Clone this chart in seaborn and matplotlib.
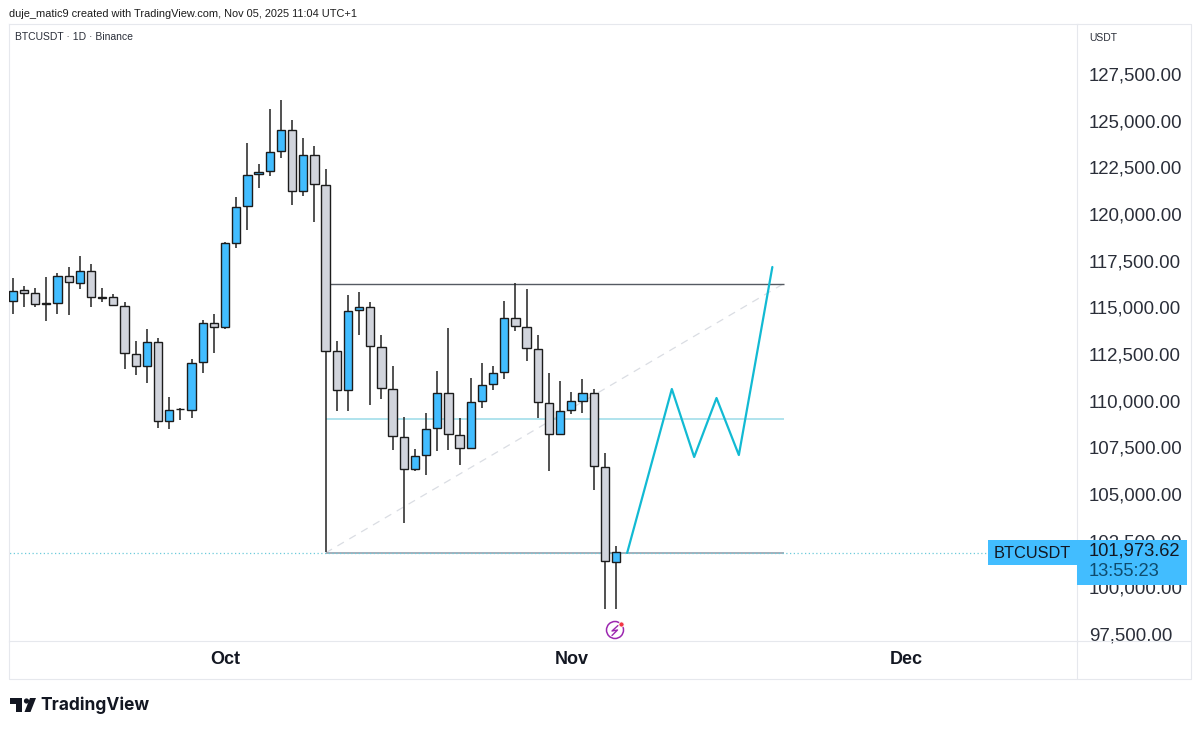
"""BTCUSDT daily candles with projected path, TradingView style snapshot."""

import matplotlib
matplotlib.use("Agg")
import matplotlib.pyplot as plt
import pandas as pd
import seaborn as sns
from matplotlib.lines import Line2D
from matplotlib.patches import Circle, Polygon, Rectangle
from matplotlib.transforms import Affine2D, ScaledTranslation

# candles
opens = [115410, 115966, 115838, 115270, 115270, 116716, 116374, 117000, 115608, 115608,
         115142, 112570, 111927, 113213, 108949, 109608, 109571, 112109, 114231, 113984,
         118516, 120483, 122180, 122341, 123413, 124570, 121270, 123215, 121591, 112699,
         110610, 114911, 115089, 112945, 110695, 108124, 106378, 107144, 108574, 110465,
         108232, 107503, 110020, 110930, 111606, 114466, 114017, 112822, 109945, 108285,
         109538, 110036, 110465, 106517, 101427]
highs = [116609, 116213, 116106, 116695, 116877, 117215, 117820, 117391, 116074, 115753,
         115324, 113234, 113877, 113427, 110235, 109661, 112270, 114376, 114713, 118554,
         120949, 123841, 122732, 125663, 126145, 125073, 124125, 123697, 122481, 113250,
         115715, 115892, 115340, 113556, 111911, 109179, 107449, 109377, 111627, 113931,
         109109, 111252, 112056, 111895, 115410, 116341, 116020, 113572, 111536, 111108,
         110502, 111199, 110663, 107235, 102284]
lows = [114681, 115072, 115072, 114338, 114681, 114660, 116052, 115056, 115356, 115163,
        111767, 111413, 111000, 108590, 108553, 109018, 109142, 111520, 112591, 113910,
        118248, 119213, 121463, 122090, 123038, 120536, 121018, 119609, 101948, 109517,
        109517, 113588, 109822, 110128, 107396, 103484, 106271, 106072, 107358, 107427,
        106608, 107503, 109661, 110641, 111215, 113786, 112163, 109142, 106271, 108285,
        109356, 109411, 105269, 98893, 98893]
closes = [115945, 115838, 115217, 115217, 116716, 116395, 117000, 115592, 115570, 115163,
          112591, 111927, 113213, 108949, 109571, 109592, 112072, 114231, 113984, 118500,
          120445, 122143, 122320, 123391, 124570, 121270, 123215, 121645, 112730, 110610,
          114874, 115089, 112966, 110716, 108146, 106378, 107106, 108553, 110449, 108253,
          107503, 109999, 110910, 111553, 114466, 114054, 112859, 109967, 108285, 109517,
          110020, 110449, 106538, 101449, 101973]

# drawings on top of the candles
path_bars = [55, 59, 61, 63, 65, 68]
path_prices = [101900, 110679, 107037, 110197, 107143, 117215]
level_start = 28
level_end = 69
level_top = 116320
level_mid = 109072
level_low = 101900

price_ticks = [97500, 100000, 102500, 105000, 107500, 110000, 112500,
               115000, 117500, 120000, 122500, 125000, 127500]
month_bars = [19, 50, 80]
month_labels = ["Oct", "Nov", "Dec"]

BLUE = "#42BDFF"
GREY = "#D1D4DC"
INK = "#131722"
EDGE = "#E6E8ED"
W, H = 1200, 731

sns.set_theme(style="white")
plt.rcParams["font.family"] = ["Liberation Sans", "DejaVu Sans"]

df = pd.DataFrame({"open": opens, "high": highs, "low": lows, "close": closes})
df["bar"] = df.index
df["up"] = df["close"] >= df["open"]
path = pd.DataFrame({"bar": path_bars, "price": path_prices})

fig = plt.figure(figsize=(W / 100, H / 100), dpi=100, facecolor="white")
ax = fig.add_axes([9 / W, 1 - 641 / H, (1077 - 9) / W, (641 - 24) / H])

# figure pixels, origin top left
px = Affine2D().scale(1, -1).translate(0, H)

# ── Levels ───────────────────────────────────────────────
ax.plot([level_start, level_end], [level_low, level_top], color="#DADDE3", lw=0.9,
        ls=(0, (6, 5)), zorder=1)
ax.hlines(level_top, level_start, level_end, color="#555a62", lw=1.0, zorder=1)
ax.hlines(level_mid, level_start, level_end, color="#9ADBE8", lw=1.1, zorder=1)
ax.hlines(level_low, level_start, level_end, color="#8D99A6", lw=1.1, zorder=1)
ax.plot([-1, 87.5], [level_low, level_low], color="#6CCBDB", lw=0.9, ls=(0, (1, 2)), zorder=1)

# ── Candles ──────────────────────────────────────────────
ax.vlines(df["bar"], df["low"], df["high"], color="#222222", lw=1.1, zorder=2)
body_bottom = df[["open", "close"]].min(axis=1)
body_height = (df["close"] - df["open"]).abs()
ax.bar(df["bar"], body_height, bottom=body_bottom, width=0.74,
       color=[BLUE if up else GREY for up in df["up"]],
       edgecolor="#1c1c1c", linewidth=1.0, zorder=3)

sns.lineplot(data=path, x="bar", y="price", color="#12BAD3", lw=1.6, ax=ax, zorder=4,
             estimator=None, sort=False)

# ── Axes ─────────────────────────────────────────────────
ax.set_xlim((9 - 12.8) / 11.17, (1077 - 12.8) / 11.17)
ax.set_ylim(97180, 130232)
ax.set_xlabel("")
ax.set_ylabel("")
ax.yaxis.tick_right()
ax.set_yticks(price_ticks)
ax.set_yticklabels([f"{p:,.2f}" for p in price_ticks], fontsize=13.4, color="#2A2E39")
ax.set_xticks(month_bars)
ax.set_xticklabels(month_labels, fontsize=13, fontweight="bold", color=INK)
ax.tick_params(axis="y", length=0, pad=8.5)
ax.tick_params(axis="x", length=0, pad=7.5)
for spine in ax.spines.values():
    spine.set_color(EDGE)
    spine.set_linewidth(0.8)

# nudge the price labels up one pixel
up_one = ScaledTranslation(0, 1 / 100, fig.dpi_scale_trans)
for label in ax.get_yticklabels():
    label.set_transform(label.get_transform() + up_one)

# outer frame of the price and time scales
for xs, ys in [([9, 1191], [679, 679]), ([9, 9], [641, 679]), ([1077, 1077], [641, 679]),
               ([1191, 1191], [24, 679]), ([1077, 1191], [24, 24]), ([1077, 1191], [641, 641])]:
    fig.add_artist(Line2D(xs, ys, color=EDGE, lw=0.8, transform=px))

# ── Last price tag ───────────────────────────────────────
fig.add_artist(Rectangle((988, 540), 89, 25, color=BLUE, lw=0, transform=px, zorder=5))
fig.add_artist(Rectangle((1077, 540), 110, 45, color=BLUE, lw=0, transform=px, zorder=5))
fig.text(1032 / W, 1 - 553 / H, "BTCUSDT", fontsize=11.8, color=INK, ha="center", va="center", zorder=6)
fig.text(1089 / W, 1 - 551.5 / H, "101,973.62", fontsize=13.2, color=INK, va="center", zorder=6)
fig.text(1089 / W, 1 - 572 / H, "13:55:23", fontsize=13.2, color="#0F4C6E", va="center", zorder=6)

# ── Header and footer text ───────────────────────────────
fig.text(9 / W, 1 - 14 / H, "duje_matic9 created with TradingView.com, Nov 05, 2025 11:04 UTC+1",
         fontsize=7.9, color="#1c1c1c", va="center")
fig.text(15 / W, 1 - 37 / H, "BTCUSDT · 1D · Binance", fontsize=7.5, color="#2A2E39", va="center")
fig.text(1089 / W, 1 - 38 / H, "USDT", fontsize=7.5, color="#2A2E39", va="center")
fig.text(40 / W, 1 - 705 / H, "TradingView", fontsize=12.5, fontfamily="Inter",
         fontweight="bold", color=INK, va="center")

# logo
fig.add_artist(Polygon([(10, 698), (22, 698), (22, 712), (16, 712), (16, 704), (10, 704)],
                       color=INK, lw=0, transform=px))
fig.add_artist(Circle((26.5, 701), 2.6, color=INK, lw=0, transform=px))
fig.add_artist(Polygon([(30, 698), (36, 698), (30.5, 712), (24.5, 712)], color=INK, lw=0, transform=px))

# dividend style marker under the last bar
fig.add_artist(Circle((615, 630), 8.5, facecolor="white", edgecolor="#9C27B0", lw=1.1,
                      transform=px, zorder=5))
fig.add_artist(Line2D([618, 612, 617.5, 612], [625.5, 631, 630, 635.5], color="#9C27B0", lw=1.0,
                      transform=px, zorder=6))
fig.add_artist(Circle((621.5, 624.5), 2.6, facecolor="#F23645", edgecolor="white", lw=0.6,
                      transform=px, zorder=6))

fig.savefig("out.png", dpi=100, facecolor="white")
